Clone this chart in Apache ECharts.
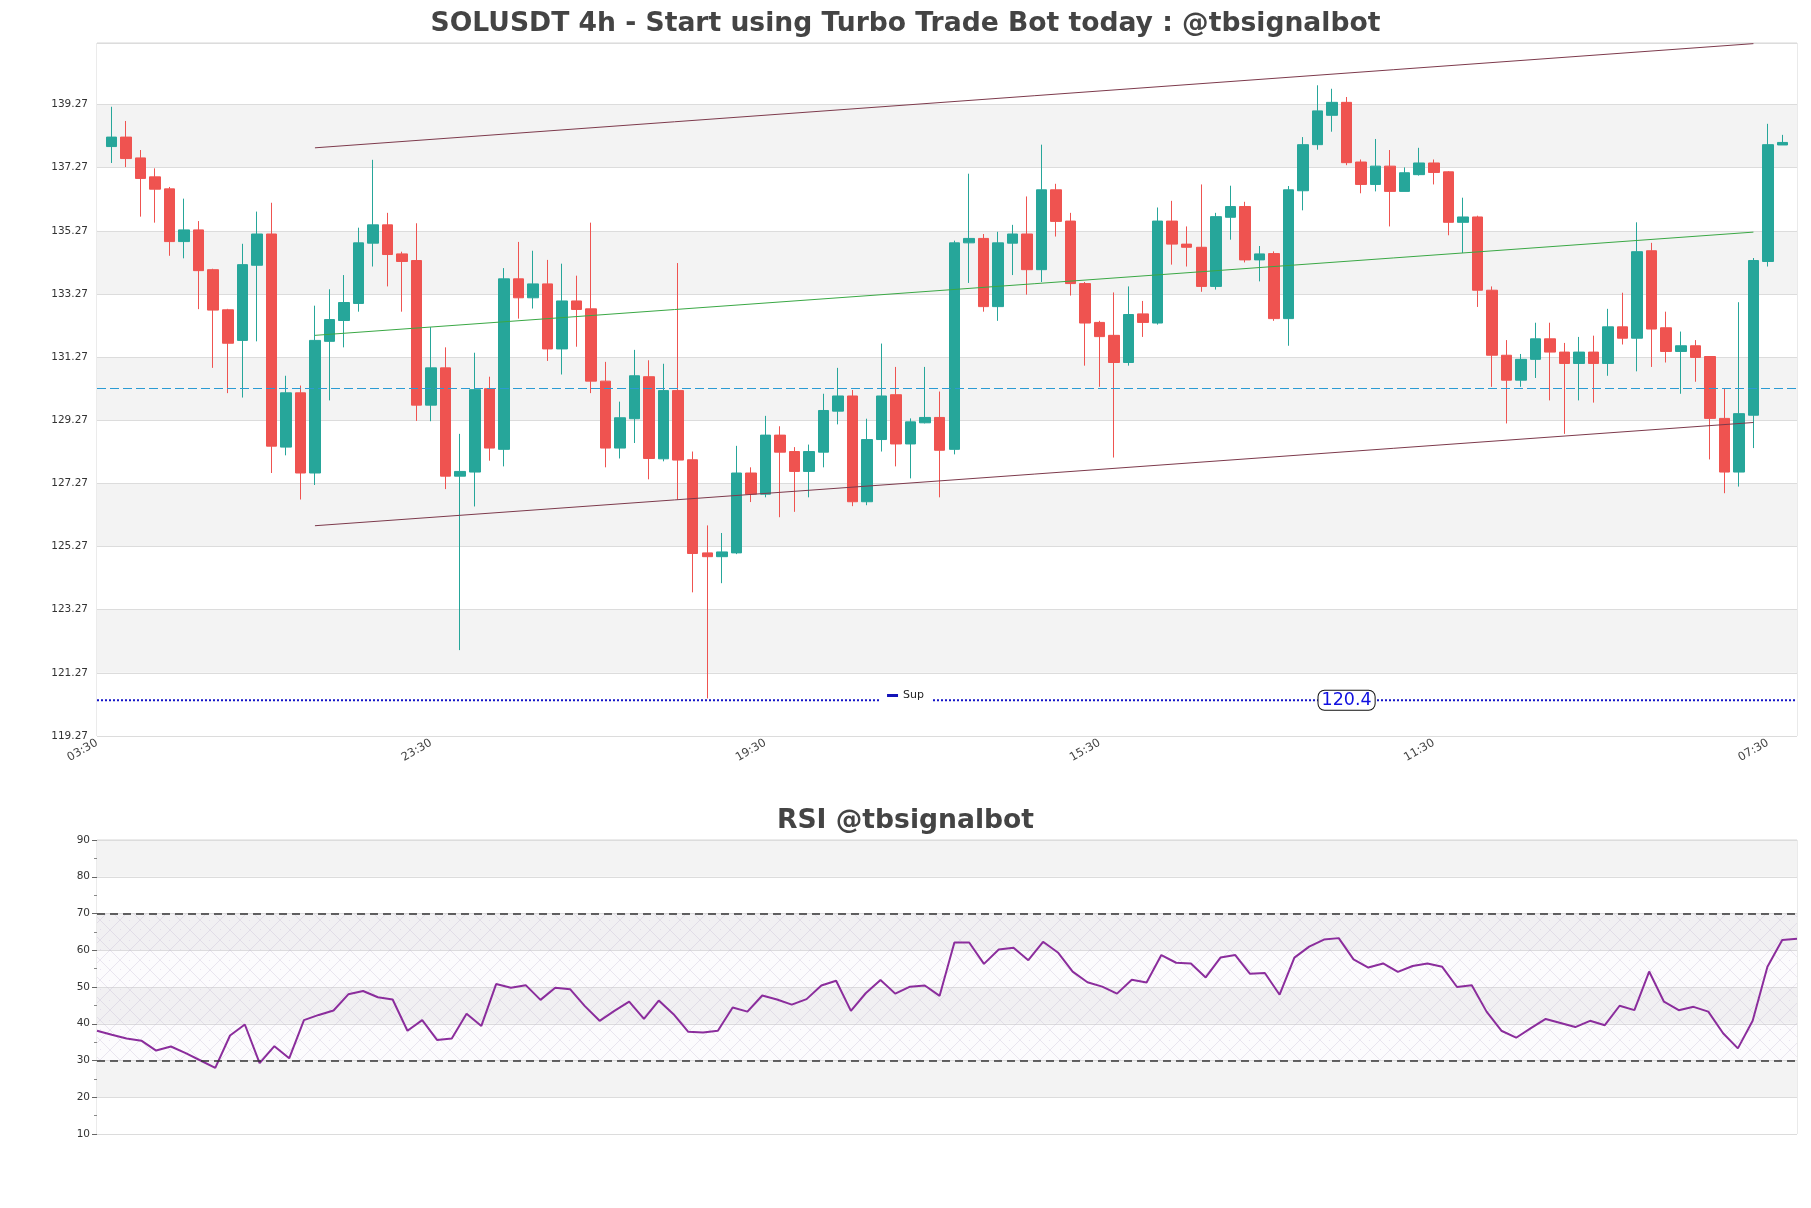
<!DOCTYPE html>
<html>
<head>
<meta charset="utf-8">
<script src="https://cdn.jsdelivr.net/npm/echarts@6/dist/echarts.min.js"></script>
<style>
html,body{margin:0;padding:0;background:#fff;}
#chart{width:1811px;height:1208px;}
</style>
</head>
<body>
<div id="chart"></div>
<script>
// ---- data ----
const hourCycle = ['03:30','07:30','11:30','15:30','19:30','23:30'];
const opens = [137.94,138.24,137.58,136.98,136.60,134.93,135.30,134.04,132.77,131.80,134.18,135.17,128.42,130.14,127.60,131.77,132.43,132.97,134.88,135.46,134.54,134.33,129.75,130.93,127.50,127.63,130.27,128.35,133.75,133.15,133.59,131.53,133.05,132.80,130.51,128.39,129.32,130.65,128.05,130.21,128.02,125.07,124.95,125.07,127.60,126.93,128.80,128.28,127.65,128.26,129.56,130.04,126.69,128.66,130.08,128.52,129.19,129.36,128.35,134.89,135.03,132.87,134.88,135.17,134.04,136.57,135.58,133.60,132.37,131.96,131.10,132.64,132.35,135.58,134.85,134.75,133.51,135.70,136.04,134.35,134.55,132.49,136.54,138.00,138.93,139.34,137.45,136.74,137.32,136.52,137.05,137.42,137.14,135.54,135.71,133.39,131.33,130.54,131.20,131.85,131.43,131.07,131.43,131.07,132.23,131.87,134.64,132.20,131.45,131.63,131.29,129.33,127.63,129.43,134.30,137.99];
const closes = [138.24,137.56,136.93,136.59,134.93,135.30,134.01,132.76,131.71,134.20,135.17,128.45,130.14,127.60,131.80,132.46,133.00,134.89,135.46,134.52,134.30,129.75,130.93,127.50,127.65,130.24,128.39,133.75,133.15,133.59,131.53,133.05,132.78,130.51,128.39,129.35,130.68,128.06,130.21,128.01,125.05,124.95,125.10,127.60,126.93,128.80,128.26,127.65,128.28,129.58,130.04,126.69,128.66,130.04,128.52,129.22,129.36,128.32,134.89,135.03,132.87,134.89,135.17,134.04,136.57,135.57,133.60,132.35,131.92,131.10,132.62,132.37,135.58,134.85,134.75,133.51,135.72,136.04,134.35,134.54,132.49,136.57,138.00,139.07,139.34,137.43,136.74,137.32,136.52,137.11,137.42,137.12,135.54,135.71,133.39,131.33,130.54,131.20,131.85,131.43,131.07,131.43,131.07,132.23,131.87,134.61,132.16,131.45,131.63,131.26,129.33,127.63,129.48,134.33,138.00,138.07];
const highs = [139.20,138.75,137.83,137.25,136.66,136.29,135.58,134.07,132.80,134.86,135.88,136.16,130.68,130.37,132.90,133.42,133.87,135.37,137.52,135.84,134.61,135.51,132.22,131.58,128.84,131.41,130.65,134.09,134.92,134.64,134.35,134.23,133.85,135.53,131.12,129.86,131.50,131.17,131.06,134.25,128.28,125.94,125.70,128.46,127.78,129.41,129.08,128.42,128.50,130.11,130.93,130.23,129.32,131.70,130.96,129.33,130.96,130.18,134.96,137.08,135.17,135.24,135.46,136.36,138.00,136.76,135.84,133.65,132.42,133.32,133.51,133.05,136.01,136.22,135.41,136.74,135.84,136.70,136.19,134.79,134.62,136.69,138.24,139.88,139.77,139.51,137.53,138.18,137.83,137.28,137.90,137.53,137.16,136.32,135.75,133.51,131.81,131.37,132.36,132.36,131.72,131.91,131.95,132.80,133.31,135.54,134.89,132.71,132.08,131.81,131.29,130.28,133.01,134.41,138.66,138.31];
const lows = [137.42,137.29,135.72,135.53,134.48,134.40,132.79,130.93,130.13,129.99,131.77,127.60,128.16,126.76,127.22,129.90,131.58,132.71,134.14,133.51,132.71,129.25,129.24,127.09,121.99,126.54,127.99,127.81,132.49,132.81,131.15,130.72,131.60,130.13,127.78,128.06,128.55,127.40,127.97,126.75,123.82,120.46,124.11,125.03,126.68,126.83,126.20,126.37,126.83,127.78,129.14,126.55,126.58,128.28,127.81,127.43,129.17,126.83,128.19,133.62,132.71,132.42,133.87,133.25,133.65,135.09,133.22,131.00,130.33,128.09,131.00,131.91,132.30,134.20,134.14,133.34,133.41,134.99,134.27,133.67,132.42,131.63,135.92,137.84,138.41,137.35,136.46,136.52,135.41,136.52,137.02,136.74,135.13,134.57,132.86,130.33,129.17,130.33,130.61,129.90,128.84,129.90,129.83,130.68,131.67,130.82,130.96,131.10,130.11,130.49,128.03,126.96,127.17,128.39,134.14,137.99];
const rsiValues = [38.1,37.0,36.0,35.4,32.7,33.8,32.0,30.0,28.0,36.8,39.8,29.3,33.9,30.6,41.0,42.4,43.6,48.0,48.9,47.2,46.6,38.1,41.0,35.6,36.0,42.7,39.4,50.8,49.8,50.5,46.5,49.8,49.4,44.8,40.8,43.5,46.0,41.3,46.3,42.6,37.8,37.6,38.1,44.4,43.3,47.7,46.6,45.2,46.7,50.4,51.7,43.5,48.3,51.9,48.2,50.1,50.4,47.6,62.1,62.1,56.3,60.2,60.7,57.3,62.3,59.4,54.2,51.3,50.1,48.2,52.0,51.2,58.7,56.6,56.4,52.6,58.0,58.7,53.6,53.8,47.9,58.0,61.0,62.9,63.3,57.5,55.3,56.4,54.1,55.7,56.4,55.5,50.0,50.5,43.3,38.1,36.2,38.8,41.3,40.2,39.1,40.8,39.6,44.9,43.7,54.2,46.0,43.7,44.6,43.3,37.4,33.3,40.8,55.5,62.8,63.1];
// trend channel: [start candle, end candle] and prices at those points
const trendIdx = [14, 113];
const upperLine = [137.90, 141.20];
const midLine = [131.96, 135.23];
const lowerLine = [125.93, 129.20];
const supLevel = 120.4;
const refLevel = 130.3;
const supLabelIdx = 85;
const yMin = 119.27, yMax = 141.22, yStep = 2;
const rsiTicks = [10, 90, 10];
const rsiBand = [30, 70];

// ---- build ----
const N = opens.length;
const cats = [];
for (let k = 0; k < N + 2; k++) cats.push(hourCycle[k % 6]);
const candleData = [['-','-','-','-']];
for (let i = 0; i < N; i++) candleData.push([opens[i], closes[i], lows[i], highs[i]]);
candleData.push(['-','-','-','-']);
const supData = cats.map(() => supLevel);
function seg(v) { return [[trendIdx[0] + 1, v[0]], [trendIdx[1] + 1, v[1]]]; }
const rsiCats = rsiValues.map((_, i) => i);

function makeHatch() {
  const s = 20;
  const c = document.createElement('canvas'); c.width = s; c.height = s;
  const g = c.getContext('2d');
  g.fillStyle = 'rgba(225,215,235,0.10)'; g.fillRect(0, 0, s, s);
  g.strokeStyle = 'rgba(190,178,210,0.30)'; g.lineWidth = 1;
  g.beginPath();
  g.moveTo(0, 0); g.lineTo(s, s);
  g.moveTo(s, 0); g.lineTo(0, s);
  g.stroke();
  g.fillStyle = 'rgba(200,185,220,0.35)';
  g.fillRect(s / 2 - 1, 0, 1, 1);
  g.fillRect(0, s / 2 - 1, 1, 1);
  return c;
}

const FONT = 'DejaVu Sans';
const chart = echarts.init(document.getElementById('chart'), null, {renderer: 'canvas'});
chart.setOption({
  animation: false,
  backgroundColor: '#fff',
  textStyle: {fontFamily: FONT},
  title: [
    {text: 'SOLUSDT 4h - Start using Turbo Trade Bot today : @tbsignalbot', left: 'center', top: 6,
     textStyle: {fontSize: 26.6, fontWeight: 'bold', color: '#444', fontFamily: FONT}},
    {text: 'RSI @tbsignalbot', left: 'center', top: 803,
     textStyle: {fontSize: 26.6, fontWeight: 'bold', color: '#444', fontFamily: FONT}}
  ],
  legend: {
    data: ['Sup'], left: 'center', top: 688, backgroundColor: '#fff', padding: [2, 8],
    icon: 'rect', itemWidth: 11, itemHeight: 3, itemGap: 8,
    textStyle: {fontSize: 11, color: '#222', fontFamily: FONT}
  },
  grid: [
    {left: 97, right: 14, top: 43, height: 693, show: true, borderColor: '#d6d6d6', borderWidth: 1, backgroundColor: 'transparent'},
    {left: 97, right: 14, top: 840, height: 294, show: true, borderColor: '#d6d6d6', borderWidth: 1, backgroundColor: 'transparent'}
  ],
  xAxis: [
    {type: 'category', gridIndex: 0, data: cats, boundaryGap: false,
     axisLine: {show: false},
     axisTick: {show: false},
     axisLabel: {interval: 22, rotate: 30, fontSize: 11.5, color: '#444', margin: 6, fontFamily: FONT},
     splitLine: {show: false}},
    {type: 'category', gridIndex: 1, data: rsiCats, boundaryGap: false,
     axisLine: {show: false}, axisTick: {show: false}, axisLabel: {show: false}, splitLine: {show: false}}
  ],
  yAxis: [
    {type: 'value', gridIndex: 0, min: yMin, max: yMax, interval: yStep, scale: true,
     axisLine: {show: false}, axisTick: {show: false},
     axisLabel: {fontSize: 10.5, color: '#333', margin: 9, showMaxLabel: false, fontFamily: FONT,
       formatter: v => v.toFixed(2)},
     splitLine: {show: true, lineStyle: {color: '#dcdcdc', width: 1}},
     splitArea: {show: true, areaStyle: {color: ['#ffffff', '#f3f3f3']}}},
    {type: 'value', gridIndex: 1, min: rsiTicks[0], max: rsiTicks[1], interval: rsiTicks[2],
     axisLine: {show: false},
     axisTick: {show: true, length: 5, lineStyle: {color: '#666'}},
     minorTick: {show: true, splitNumber: 2, length: 3, lineStyle: {color: '#888'}},
     axisLabel: {fontSize: 10.5, color: '#333', margin: 7, fontFamily: FONT},
     splitLine: {show: true, lineStyle: {color: '#dcdcdc', width: 1}},
     splitArea: {show: true, areaStyle: {color: ['#ffffff', '#f3f3f3']}}}
  ],
  series: [
    {name: 'Price', type: 'candlestick', xAxisIndex: 0, yAxisIndex: 0, data: candleData, barWidth: 11,
     itemStyle: {color: '#26a69a', color0: '#ef5350', borderColor: '#26a69a', borderColor0: '#ef5350', borderWidth: 1},
     markLine: {silent: true, symbol: 'none', label: {show: false},
       lineStyle: {color: '#2b9bd3', type: [9, 4], width: 1},
       data: [{yAxis: refLevel}]}
    },
    {name: 'Upper', type: 'line', xAxisIndex: 0, yAxisIndex: 0, data: seg(upperLine), showSymbol: false,
     lineStyle: {color: '#7d3a4c', width: 1}, silent: true, z: 3},
    {name: 'Mid', type: 'line', xAxisIndex: 0, yAxisIndex: 0, data: seg(midLine), showSymbol: false,
     lineStyle: {color: '#3aa845', width: 1}, silent: true, z: 3},
    {name: 'Lower', type: 'line', xAxisIndex: 0, yAxisIndex: 0, data: seg(lowerLine), showSymbol: false,
     lineStyle: {color: '#7d3a4c', width: 1}, silent: true, z: 3},
    {name: 'Sup', type: 'line', xAxisIndex: 0, yAxisIndex: 0, data: supData, showSymbol: false,
     itemStyle: {color: '#1414b8'},
     lineStyle: {color: '#1414c8', width: 2, type: 'dotted'}, silent: true, z: 3,
     markPoint: {symbol: 'rect', symbolSize: 0, silent: true,
       data: [{coord: [supLabelIdx + 1, supLevel], value: supLevel}],
       label: {show: true, position: 'inside', formatter: String(supLevel), color: '#1010e0', fontSize: 17.5,
         fontFamily: FONT, backgroundColor: '#fff', borderColor: '#111', borderWidth: 1, borderRadius: 6,
         padding: [1, 3, 0, 3]}}
    },
    {name: 'RSI', type: 'line', xAxisIndex: 1, yAxisIndex: 1, data: rsiValues, showSymbol: false,
     lineStyle: {color: '#8b2d9c', width: 2}, silent: true, z: 4,
     markArea: {silent: true, itemStyle: {color: {image: makeHatch(), repeat: 'repeat'}},
       data: [[{yAxis: rsiBand[0]}, {yAxis: rsiBand[1]}]]},
     markLine: {silent: true, symbol: 'none', label: {show: false},
       lineStyle: {color: '#333', type: [8, 5], width: 1.5},
       data: [{yAxis: rsiBand[0]}, {yAxis: rsiBand[1]}]}
    }
  ]
});
</script>
</body>
</html>
